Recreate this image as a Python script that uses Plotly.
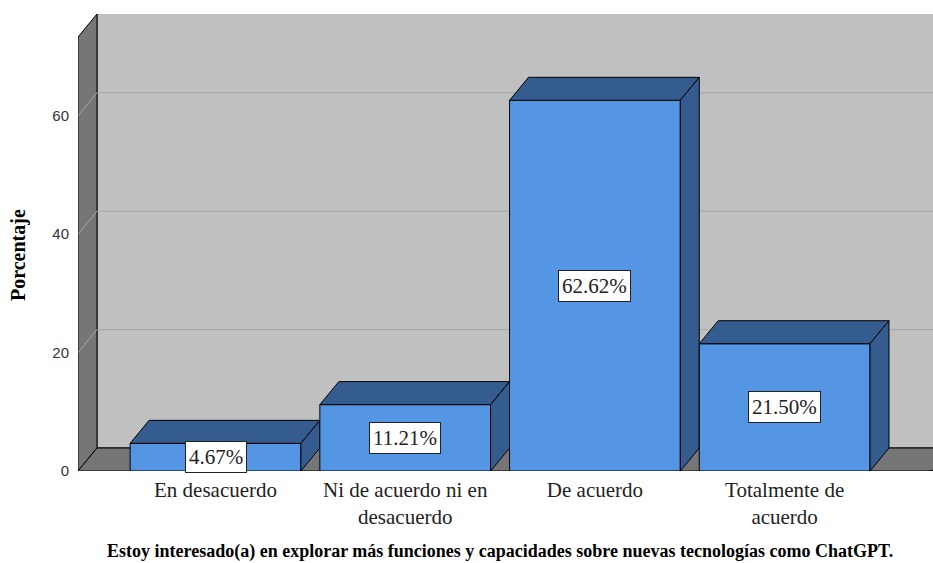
import plotly.graph_objects as go

categories = ["En desacuerdo", "Ni de acuerdo ni en<br>desacuerdo", "De acuerdo", "Totalmente de<br>acuerdo"]
values = [4.67, 11.21, 62.62, 21.50]
value_labels = ["4.67%", "11.21%", "62.62%", "21.50%"]
y_ticks = [0, 20, 40, 60]
x_title = "Estoy interesado(a) en explorar más funciones y capacidades sobre nuevas tecnologías como ChatGPT."
y_title = "Porcentaje"

# geometry (axis units)
X_MIN, X_MAX = -0.7248, 3.782
Y_MAX = 77.2
DX, DY = 0.10, 3.885
BW = 0.9

FRONT = "rgb(84,150,228)"
DARK = "rgb(52,92,142)"
WALL = "#c0c0c0"
SIDE = "#767676"
GRID = "#a6a6a6"

fig = go.Figure()
shapes = []

def poly(xs, ys, color, layer="below"):
    path = "M " + " L ".join(f"{x},{y}" for x, y in zip(xs, ys)) + " Z"
    return dict(type="path", path=path, xref="x", yref="y", fillcolor=color,
                line=dict(color="black", width=1), layer=layer)

# back wall
shapes.append(poly([X_MIN + DX, X_MAX + 1, X_MAX + 1, X_MIN + DX],
                   [DY, DY, Y_MAX + 5, Y_MAX + 5], WALL))
# left wall
shapes.append(poly([X_MIN, X_MIN, X_MIN + DX, X_MIN + DX],
                   [0, Y_MAX - DY, Y_MAX, DY], SIDE))
# floor
shapes.append(poly([X_MIN, X_MIN + DX, X_MAX + 1, X_MAX - 0.03],
                   [0, DY, DY, 0], SIDE))
# gridlines
for t in y_ticks[1:]:
    shapes.append(dict(type="line", xref="x", yref="y", x0=X_MIN + DX, x1=X_MAX + 1,
                       y0=t + DY, y1=t + DY, line=dict(color=GRID, width=1), layer="below"))
    shapes.append(dict(type="line", xref="x", yref="y", x0=X_MIN, x1=X_MIN + DX,
                       y0=t, y1=t + DY, line=dict(color=GRID, width=1), layer="below"))

for i, v in enumerate(values):
    x0, x1 = i - BW / 2, i + BW / 2
    # front face
    fig.add_trace(go.Scatter(x=[x0, x1, x1, x0, x0], y=[0, 0, v, v, 0], mode="lines",
                             fill="toself", fillcolor=FRONT, line=dict(color="black", width=1),
                             hoverinfo="skip", showlegend=False))
    # top face
    fig.add_trace(go.Scatter(x=[x0, x1, x1 + DX, x0 + DX, x0], y=[v, v, v + DY, v + DY, v],
                             mode="lines", fill="toself", fillcolor=DARK,
                             line=dict(color="black", width=1), hoverinfo="skip", showlegend=False))
    # right side
    fig.add_trace(go.Scatter(x=[x1, x1 + DX, x1 + DX, x1, x1], y=[0, DY, v + DY, v, 0],
                             mode="lines", fill="toself", fillcolor=DARK,
                             line=dict(color="black", width=1), hoverinfo="skip", showlegend=False))

annotations = []
for i, (v, lab) in enumerate(zip(values, value_labels)):
    annotations.append(dict(x=i, y=v / 2, xref="x", yref="y", text=lab, showarrow=False,
                            font=dict(family="Liberation Serif", size=21, color="#222"),
                            bgcolor="white", bordercolor="#222", borderwidth=1, borderpad=3))

annotations.append(dict(x=(500 - 78) / 855, y=(471 - 551) / 457, xref="paper", yref="paper",
                        yanchor="middle", xanchor="center", text="<b>" + x_title + "</b>",
                        showarrow=False,
                        font=dict(family="Liberation Serif", size=18, color="black")))
annotations.append(dict(x=-60 / 855, y=(471 - 255) / 457, xref="paper", yref="paper",
                        xanchor="center", yanchor="middle", text="<b>" + y_title + "</b>",
                        textangle=-90, showarrow=False,
                        font=dict(family="Liberation Serif", size=20, color="black")))

fig.update_layout(
    width=933, height=563,
    margin=dict(l=78, r=0, t=14, b=92),
    paper_bgcolor="white", plot_bgcolor="white",
    shapes=shapes, annotations=annotations, showlegend=False,
    xaxis=dict(range=[X_MIN, X_MAX], showgrid=False, zeroline=False, showline=False,
               tickvals=list(range(len(categories))), ticktext=categories, ticks="",
               tickfont=dict(family="Liberation Serif", size=21, color="#222"),
               ticklabelstandoff=4, fixedrange=True),
    yaxis=dict(range=[0, Y_MAX], showgrid=False, zeroline=False, showline=False,
               tickvals=y_ticks, ticks="", ticklabelstandoff=8,
               tickfont=dict(family="Liberation Sans", size=15, color="#333"),
               fixedrange=True),
)

fig.write_html("out.html")
